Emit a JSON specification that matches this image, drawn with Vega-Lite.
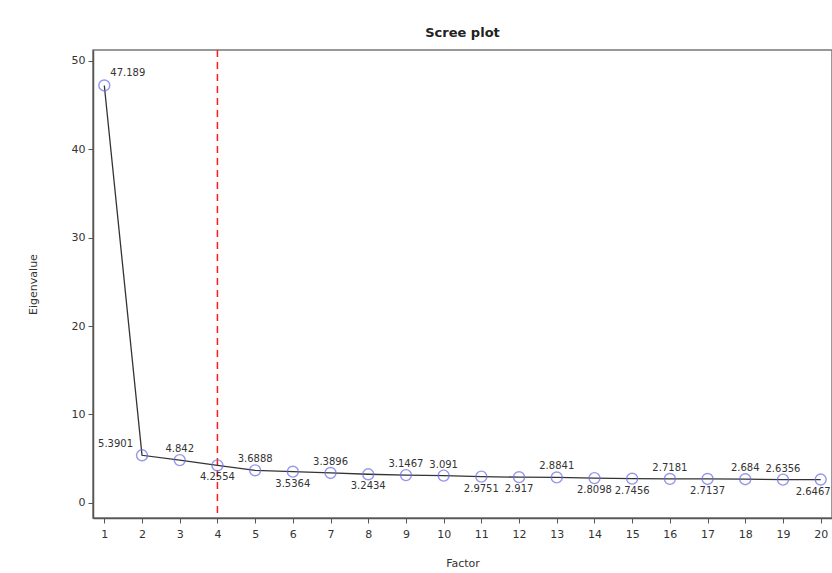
{
  "$schema": "https://vega.github.io/schema/vega-lite/v6.json",
  "autosize": "none",
  "width": 739,
  "height": 468,
  "padding": {"left": 93, "top": 50, "right": 0, "bottom": 55},
  "background": "white",
  "config": {
    "font": "DejaVu Sans",
    "view": {"stroke": "#777", "strokeWidth": 1.5},
    "axis": {"grid": false, "domainColor": "#555", "domainWidth": 1.5, "tickColor": "#555", "tickSize": 5, "labelColor": "#333", "labelFontSize": 11, "titleColor": "#333", "titleFontSize": 11, "titleFontWeight": "normal", "labelFont": "DejaVu Sans", "titleFont": "DejaVu Sans"}
  },
  "title": {"text": "Scree plot", "fontSize": 13, "fontWeight": "bold", "color": "#222", "offset": 9, "anchor": "middle", "font": "DejaVu Sans"},
  "data": {"values": [
    {"factor": 1, "eigen": 47.189, "lab": "47.189", "pos": "special"},
    {"factor": 2, "eigen": 5.3901, "lab": "5.3901", "pos": "left"},
    {"factor": 3, "eigen": 4.842, "lab": "4.842", "pos": "above"},
    {"factor": 4, "eigen": 4.2554, "lab": "4.2554", "pos": "below"},
    {"factor": 5, "eigen": 3.6888, "lab": "3.6888", "pos": "above"},
    {"factor": 6, "eigen": 3.5364, "lab": "3.5364", "pos": "below"},
    {"factor": 7, "eigen": 3.3896, "lab": "3.3896", "pos": "above"},
    {"factor": 8, "eigen": 3.2434, "lab": "3.2434", "pos": "below"},
    {"factor": 9, "eigen": 3.1467, "lab": "3.1467", "pos": "above"},
    {"factor": 10, "eigen": 3.091, "lab": "3.091", "pos": "above"},
    {"factor": 11, "eigen": 2.9751, "lab": "2.9751", "pos": "below"},
    {"factor": 12, "eigen": 2.917, "lab": "2.917", "pos": "below"},
    {"factor": 13, "eigen": 2.8841, "lab": "2.8841", "pos": "above"},
    {"factor": 14, "eigen": 2.8098, "lab": "2.8098", "pos": "below"},
    {"factor": 15, "eigen": 2.7456, "lab": "2.7456", "pos": "below"},
    {"factor": 16, "eigen": 2.7181, "lab": "2.7181", "pos": "above"},
    {"factor": 17, "eigen": 2.7137, "lab": "2.7137", "pos": "below"},
    {"factor": 18, "eigen": 2.684, "lab": "2.684", "pos": "above"},
    {"factor": 19, "eigen": 2.6356, "lab": "2.6356", "pos": "above"},
    {"factor": 20, "eigen": 2.6467, "lab": "2.6467", "pos": "belowright"}
  ]},
  "encoding": {
    "x": {"field": "factor", "type": "quantitative", "scale": {"domain": [0.7, 20.3], "nice": false, "zero": false}, "axis": {"values": [1,2,3,4,5,6,7,8,9,10,11,12,13,14,15,16,17,18,19,20], "title": "Factor", "titlePadding": 18, "labelPadding": 5}},
    "y": {"field": "eigen", "type": "quantitative", "scale": {"domain": [-1.7, 51.2], "nice": false, "zero": false}, "axis": {"values": [0,10,20,30,40,50], "title": "Eigenvalue", "titlePadding": 33, "labelPadding": 3}}
  },
  "layer": [
    {"mark": {"type": "rule", "color": "#ff1a1a", "strokeDash": [7, 5], "strokeWidth": 1.5}, "data": {"values": [{"xv": 4}]}, "encoding": {"x": {"field": "xv", "type": "quantitative"}, "y": null}},
    {"mark": {"type": "line", "color": "#333", "strokeWidth": 1.3}},
    {"mark": {"type": "point", "shape": "circle", "filled": false, "stroke": "#6a6ae8", "strokeWidth": 1.4, "size": 120}},
    {"mark": {"type": "text", "fontSize": 10, "color": "#333", "dy": -11}, "transform": [{"filter": "datum.pos == 'above'"}], "encoding": {"text": {"field": "lab"}}},
    {"mark": {"type": "text", "fontSize": 10, "color": "#333", "dy": 12}, "transform": [{"filter": "datum.pos == 'below'"}], "encoding": {"text": {"field": "lab"}}},
    {"mark": {"type": "text", "fontSize": 10, "color": "#333", "align": "right", "dx": 10, "dy": 12}, "transform": [{"filter": "datum.pos == 'belowright'"}], "encoding": {"text": {"field": "lab"}}},
    {"mark": {"type": "text", "fontSize": 10, "color": "#333", "align": "right", "dx": -9, "dy": -11}, "transform": [{"filter": "datum.pos == 'left'"}], "encoding": {"text": {"field": "lab"}}},
    {"mark": {"type": "text", "fontSize": 10, "color": "#333", "align": "left", "dx": 6, "dy": -12}, "transform": [{"filter": "datum.pos == 'special'"}], "encoding": {"text": {"field": "lab"}}}
  ]
}
